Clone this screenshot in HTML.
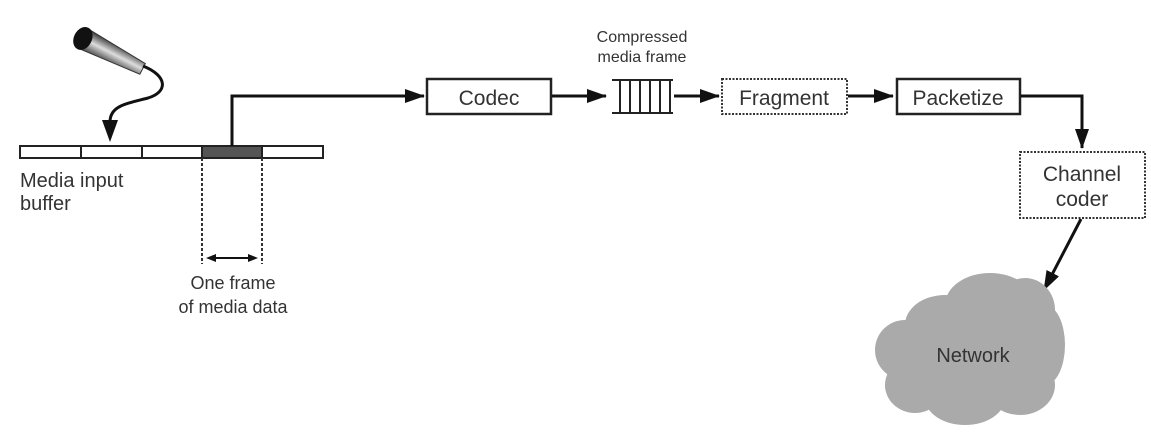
<!DOCTYPE html>
<html><head><style>
html,body{margin:0;padding:0;background:#fff;}
svg{display:block;}
text{font-family:"Liberation Sans",sans-serif;fill:#333;}
</style></head><body>
<svg width="1151" height="443" viewBox="0 0 1151 443" xmlns="http://www.w3.org/2000/svg">
<defs>
<marker id="ah2" markerWidth="20" markerHeight="14" refX="19" refY="7" orient="auto" markerUnits="userSpaceOnUse"><path d="M0,0 L20,7 L0,14 z" fill="#111"/></marker>
<linearGradient id="mg" x1="0" y1="0" x2="0" y2="1"><stop offset="0" stop-color="#333"/><stop offset="0.5" stop-color="#ddd"/><stop offset="1" stop-color="#444"/></linearGradient>
</defs>
<!-- mic -->
<g transform="translate(82,38) rotate(27)">
<path d="M0,-11 L68,-6 L68,6 L0,11 z" fill="url(#mg)" stroke="#333" stroke-width="1"/>
<ellipse cx="1" cy="0" rx="9" ry="12" fill="#111"/>
</g>
<path d="M143,66 C168,76 168,92 148,98 C125,104 110,106 110,122" fill="none" stroke="#111" stroke-width="3"/>
<path d="M102,120 L118,120 L110,142 z" fill="#111"/>
<!-- buffer -->
<rect x="20" y="146" width="303" height="12" fill="#fff" stroke="#222" stroke-width="2"/>
<rect x="202" y="146" width="60" height="12" fill="#555" stroke="#222" stroke-width="2"/>
<line x1="81" y1="146" x2="81" y2="158" stroke="#222" stroke-width="2"/>
<line x1="142" y1="146" x2="142" y2="158" stroke="#222" stroke-width="2"/>
<!-- dashed frame -->
<line x1="202" y1="158" x2="202" y2="264" stroke="#333" stroke-width="2" stroke-dasharray="3,2"/>
<line x1="262" y1="158" x2="262" y2="264" stroke="#333" stroke-width="2" stroke-dasharray="3,2"/>
<line x1="210" y1="258" x2="254" y2="258" stroke="#111" stroke-width="2"/>
<path d="M206,258 l10,-4 v8 z M258,258 l-10,-4 v8 z" fill="#111"/>
<text x="20" y="187" font-size="20">Media input</text>
<text x="20" y="210" font-size="20">buffer</text>
<text x="233" y="289" font-size="18" text-anchor="middle">One frame</text>
<text x="233" y="313" font-size="18" text-anchor="middle">of media data</text>
<!-- arrow to codec -->
<path d="M232,146 V96 H424" fill="none" stroke="#111" stroke-width="3" marker-end="url(#ah2)"/>
<rect x="427" y="79" width="124" height="35" fill="#fff" stroke="#222" stroke-width="2.5"/>
<text x="489" y="105" font-size="21" text-anchor="middle">Codec</text>
<line x1="552" y1="96" x2="606" y2="96" stroke="#111" stroke-width="3" marker-end="url(#ah2)"/>
<!-- frame stack -->
<g stroke="#222" stroke-width="2">
<line x1="612" y1="80" x2="673" y2="80"/><line x1="612" y1="113" x2="673" y2="113"/>
<line x1="620" y1="80" x2="620" y2="113"/><line x1="630" y1="80" x2="630" y2="113"/><line x1="640" y1="80" x2="640" y2="113"/><line x1="650" y1="80" x2="650" y2="113"/><line x1="660" y1="80" x2="660" y2="113"/><line x1="670" y1="80" x2="670" y2="113"/>
</g>
<text x="642" y="42" font-size="16" text-anchor="middle">Compressed</text>
<text x="642" y="62" font-size="16" text-anchor="middle">media frame</text>
<line x1="674" y1="96" x2="719" y2="96" stroke="#111" stroke-width="3" marker-end="url(#ah2)"/>
<rect x="722" y="79" width="125" height="35" fill="#fff" stroke="#333" stroke-width="2" stroke-dasharray="2,1.5"/>
<text x="784" y="105" font-size="21" text-anchor="middle">Fragment</text>
<line x1="848" y1="96" x2="893" y2="96" stroke="#111" stroke-width="3" marker-end="url(#ah2)"/>
<rect x="897" y="79" width="123" height="35" fill="#fff" stroke="#222" stroke-width="2.5"/>
<text x="958" y="105" font-size="21" text-anchor="middle">Packetize</text>
<path d="M1021,96 H1082 V148" fill="none" stroke="#111" stroke-width="3" marker-end="url(#ah2)"/>
<rect x="1020" y="152" width="125" height="66" fill="#fff" stroke="#333" stroke-width="2" stroke-dasharray="2,1.5"/>
<text x="1082" y="181" font-size="21" text-anchor="middle">Channel</text>
<text x="1082" y="206" font-size="21" text-anchor="middle">coder</text>
<line x1="1081" y1="219" x2="1044" y2="290" stroke="#111" stroke-width="3" marker-end="url(#ah2)"/>
<!-- cloud -->
<g fill="#aaa">
<ellipse cx="990" cy="305" rx="45" ry="32"/>
<ellipse cx="1025" cy="310" rx="30" ry="32"/>
<ellipse cx="945" cy="325" rx="40" ry="30"/>
<ellipse cx="905" cy="350" rx="30" ry="30"/>
<ellipse cx="915" cy="385" rx="30" ry="28"/>
<ellipse cx="965" cy="398" rx="40" ry="27"/>
<ellipse cx="1020" cy="385" rx="35" ry="30"/>
<ellipse cx="1045" cy="345" rx="20" ry="40"/>
<ellipse cx="975" cy="355" rx="65" ry="55"/>
</g>
<text x="973" y="362" font-size="20" text-anchor="middle">Network</text>
</svg>
</body></html>
